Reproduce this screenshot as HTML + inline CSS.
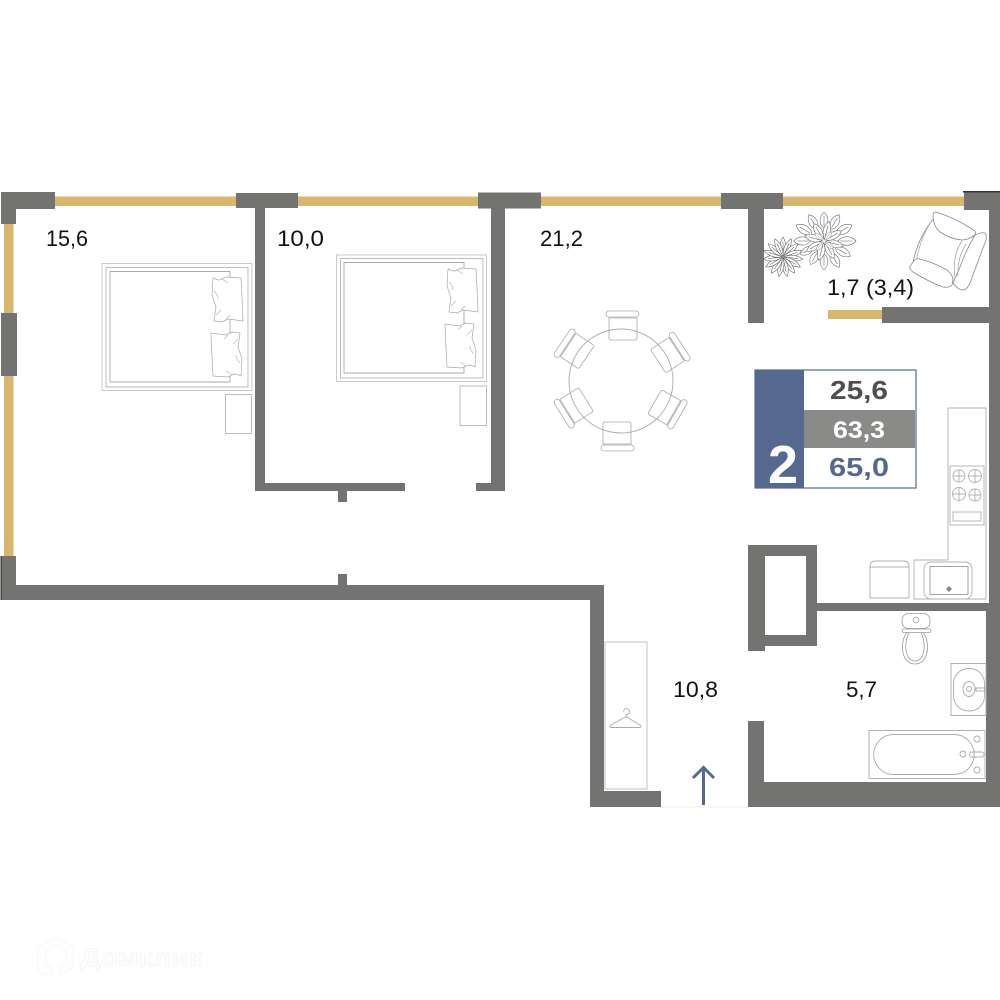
<!DOCTYPE html>
<html><head><meta charset="utf-8"><title>Floor plan</title>
<style>html,body{margin:0;padding:0;background:#fff}svg{display:block}</style></head>
<body>
<svg width="1000" height="1000" viewBox="0 0 1000 1000" xmlns="http://www.w3.org/2000/svg" font-family="'Liberation Sans',sans-serif">
<defs>
<path id="pet" d="M0 -1C-4 -7 -3.500 -14 0 -20C3.500 -14 4 -7 0 -1ZM0 -3V-15" fill="#fff" stroke="#666" stroke-width=".6"/>
<path id="pet2" d="M0 -14C-6 -19 -5.500 -27 0 -32C5.500 -27 6 -19 0 -14ZM0 -16V-28" fill="#fff" stroke="#666" stroke-width=".6"/>
<path id="pet3" d="M0 -2C-5 -8 -4.500 -15 0 -20C4.500 -15 5 -8 0 -2ZM0 -4V-16" fill="#fff" stroke="#666" stroke-width=".6"/>
<g id="chair" fill="none" stroke="#aaa" stroke-width=".8">
<rect x="606" y="311" width="33" height="6" rx="3"/>
<path d="M609 318H637V338Q637 340 635 340H611Q609 340 609 338Z"/>
</g>
<path id="pl" d="M1 1Q5 3 8 3L14 0L29 1L30 20L31 44L16 42L10 45L2 44L4 30L0 18Z" fill="#fff" stroke="#a8a8a8" stroke-width=".7"/>
<path id="pl2" d="M2 14Q6 18 6 22M4 38L9 33M10 2L16 6M14 42L18 38" fill="none" stroke="#b0b0b0" stroke-width=".6"/>
</defs>

<!-- windows -->
<g fill="#d9b66d">
<rect x="55" y="196.500" width="181" height="9.500"/>
<rect x="298" y="196.500" width="180" height="9.500"/>
<rect x="541" y="196.500" width="180" height="9.500"/>
<rect x="783" y="196.500" width="181" height="9.500"/>
<rect x="4" y="224" width="9.500" height="333"/>
<rect x="828" y="310" width="54" height="9"/>
</g>

<!-- walls -->
<g fill="#737372">
<path d="M1 192H55V209H16V224H1Z"/>
<rect x="1" y="313" width="16" height="63"/>
<rect x="236" y="193" width="62" height="15"/>
<path d="M255 208H265V483H405V491H347V502H338V491H255Z"/>
<rect x="478" y="192.500" width="63" height="16"/>
<path d="M491 208H505V491H476V483H491Z"/>
<rect x="721" y="193" width="62" height="16"/>
<rect x="748" y="209" width="16" height="114"/>
<path d="M964 192H1000V600H1000V807H748V721H764V782H986V611H817V646H765V651H748V545H817V603H989V323H882V307H989V210H964ZM765 556V635H806V556Z" fill-rule="evenodd"/>
<path d="M1 556H16V585H338V574H347V585H604V791H661V807H590V600H1Z"/>
</g>
<rect x="963" y="191" width="37" height="1.500" fill="#333"/>
<rect x="0.500" y="556" width="1.200" height="44" fill="#333"/>
<rect x="661" y="806.500" width="87" height="1" fill="#f2f2f2"/>

<!-- bed 1 -->
<g fill="none" stroke="#b5b5b5" stroke-width=".9">
<rect x="102" y="263.500" width="150" height="127" stroke="#c4c4c4"/>
<rect x="106" y="267.500" width="142" height="119.500"/>
<path d="M230 271.500H110V382H230Z" stroke="#aaa"/>
<rect x="225.500" y="394.500" width="26" height="39"/>
</g>
<use href="#pl" x="212" y="277"/><use href="#pl2" x="212" y="277"/>
<use href="#pl" transform="translate(242 377) rotate(180)"/><use href="#pl2" transform="translate(242 377) rotate(180)"/>

<!-- bed 2 -->
<g fill="none" stroke="#b5b5b5" stroke-width=".9">
<rect x="336.500" y="255" width="150" height="126.500" stroke="#c4c4c4"/>
<rect x="340.500" y="258.500" width="142.500" height="119.500"/>
<path d="M464 262.500H344V373H464Z" stroke="#aaa"/>
<rect x="460" y="386" width="26.500" height="39.500"/>
</g>
<use href="#pl" x="447" y="268"/><use href="#pl2" x="447" y="268"/>
<use href="#pl" transform="translate(476 368) rotate(180)"/><use href="#pl2" transform="translate(476 368) rotate(180)"/>

<!-- table and chairs -->
<g>
<use href="#chair"/>
<use href="#chair" transform="rotate(57 621 383)"/>
<use href="#chair" transform="rotate(120 621 380)"/>
<use href="#chair" transform="rotate(180 620 381)"/>
<use href="#chair" transform="rotate(238 621 380)"/>
<use href="#chair" transform="rotate(304 621 383)"/>
</g>
<circle cx="621" cy="381" r="52" fill="none" stroke="#aaa" stroke-width=".9"/>

<!-- plants -->
<g>
<use href="#pet2" transform="translate(824 241) rotate(0) scale(.9)"/>
<use href="#pet2" transform="translate(824 241) rotate(30) scale(.95)"/>
<use href="#pet2" transform="translate(824 241) rotate(60)"/>
<use href="#pet2" transform="translate(824 241) rotate(90)"/>
<use href="#pet2" transform="translate(824 241) rotate(120) scale(.95)"/>
<use href="#pet2" transform="translate(824 241) rotate(150) scale(.95)"/>
<use href="#pet2" transform="translate(824 241) rotate(180) scale(.9)"/>
<use href="#pet2" transform="translate(824 241) rotate(210) scale(.85)"/>
<use href="#pet2" transform="translate(824 241) rotate(240) scale(.85)"/>
<use href="#pet2" transform="translate(824 241) rotate(270) scale(.95)"/>
<use href="#pet2" transform="translate(824 241) rotate(300)"/>
<use href="#pet2" transform="translate(824 241) rotate(330) scale(.95)"/>
<use href="#pet3" transform="translate(824 241) rotate(15)"/>
<use href="#pet3" transform="translate(824 241) rotate(60)"/>
<use href="#pet3" transform="translate(824 241) rotate(105)"/>
<use href="#pet3" transform="translate(824 241) rotate(150)"/>
<use href="#pet3" transform="translate(824 241) rotate(195)"/>
<use href="#pet3" transform="translate(824 241) rotate(240)"/>
<use href="#pet3" transform="translate(824 241) rotate(285)"/>
<use href="#pet3" transform="translate(824 241) rotate(330)"/>
<use href="#pet3" transform="translate(824 241) rotate(40) scale(.6)"/>
<use href="#pet3" transform="translate(824 241) rotate(130) scale(.6)"/>
<use href="#pet3" transform="translate(824 241) rotate(220) scale(.6)"/>
<use href="#pet3" transform="translate(824 241) rotate(310) scale(.6)"/>
<use href="#pet" transform="translate(783 257) rotate(0)"/>
<use href="#pet" transform="translate(783 257) rotate(24)"/>
<use href="#pet" transform="translate(783 257) rotate(48)"/>
<use href="#pet" transform="translate(783 257) rotate(72)"/>
<use href="#pet" transform="translate(783 257) rotate(96)"/>
<use href="#pet" transform="translate(783 257) rotate(120)"/>
<use href="#pet" transform="translate(783 257) rotate(144)"/>
<use href="#pet" transform="translate(783 257) rotate(168)"/>
<use href="#pet" transform="translate(783 257) rotate(192)"/>
<use href="#pet" transform="translate(783 257) rotate(216)"/>
<use href="#pet" transform="translate(783 257) rotate(240)"/>
<use href="#pet" transform="translate(783 257) rotate(264)"/>
<use href="#pet" transform="translate(783 257) rotate(288)"/>
<use href="#pet" transform="translate(783 257) rotate(312)"/>
<use href="#pet" transform="translate(783 257) rotate(336)"/>
</g>

<!-- armchair -->
<g fill="#fff" stroke="#888" stroke-width=".8" stroke-linejoin="round">
<path d="M934 218C925 229 917 243 913 262" fill="none"/>
<path d="M931 222C924 232 919 246 917 258" fill="none" stroke="#aaa"/>
<path d="M975 235Q981 232 985 233Q987 235 986 240L970 283Q967 290 962 290Q957 289 953 283L960 267Q966 250 975 235Z"/>
<path d="M936 212Q955 218 972 229Q977 232 975 235Q968 240 962 240Q950 239 940 232Q933 226 933 215Q933 212 936 212Z"/>
<path d="M920 259Q935 263 947 270Q953 275 953 280L952 285Q949 288 943 287Q927 281 913 272Q909 269 910 266Q913 262 915 260Q917 258 920 259Z"/>
<path d="M962 241Q952 255 955 278M966 244Q957 258 958 276" fill="none" stroke="#aaa"/>
</g>

<!-- kitchen -->
<g fill="none" stroke="#b0b0b0" stroke-width=".9">
<path d="M948 560V408H986V599H914V560H948"/>
<rect x="950" y="466" width="34" height="59"/>
<circle cx="959" cy="476" r="6"/><path d="M953 476H965M959 470V482"/>
<circle cx="975" cy="476" r="6.500"/><path d="M968.500 476H981.500M975 469.500V482.500"/>
<circle cx="959" cy="494" r="6.500"/><path d="M952.500 494H965.500M959 487.500V500.500"/>
<circle cx="975" cy="495" r="6"/><path d="M969 495H981M975 489V501"/>
<rect x="953" y="512" width="28" height="9"/>
<rect x="924" y="562" width="48" height="37" rx="7"/>
<rect x="930" y="566.500" width="38" height="28" stroke="#999"/>
<path d="M870 567V598H909V567ZM870 567Q870 561 875 561H904Q909 561 909 567"/>
</g>
<path d="M949 586L952 589L949 592L946 589Z" fill="#888"/>

<!-- info box -->
<rect x="755" y="370" width="161" height="118" fill="#fff" stroke="#55698f" stroke-width="1.200"/>
<rect x="755" y="370" width="49" height="118" fill="#55698f"/>
<rect x="804" y="410" width="111" height="38" fill="#8a8a88"/>
<text x="768" y="483" font-size="54" font-weight="700" fill="#fff" textLength="30" lengthAdjust="spacingAndGlyphs">2</text>
<text x="830" y="399" font-size="26" font-weight="700" fill="#4f4f4f" textLength="58" lengthAdjust="spacingAndGlyphs">25,6</text>
<text x="833" y="438" font-size="24.500" font-weight="700" fill="#fff" textLength="52" lengthAdjust="spacingAndGlyphs">63,3</text>
<text x="829" y="476" font-size="26" font-weight="700" fill="#55698f" textLength="60" lengthAdjust="spacingAndGlyphs">65,0</text>

<!-- toilet -->
<g fill="none" stroke="#999" stroke-width=".8">
<rect x="902" y="613.500" width="28" height="15" rx="6.500"/>
<circle cx="916" cy="620" r="2.800"/>
<rect x="902" y="629" width="29" height="3.500" rx="1.700"/>
<path d="M907 632.500C900 640 900 664 915 664C930 664 930 640 923 632.500"/>
<path d="M909 633C904 641 904 661 915 661C926 661 926 641 921 633"/>
</g>
<!-- sink -->
<g fill="none" stroke="#aaa" stroke-width=".9">
<rect x="951" y="663.500" width="35" height="52"/>
<rect x="953.500" y="668.500" width="31" height="42.500" rx="15"/>
<ellipse cx="969" cy="689" rx="6" ry="7.500"/>
<circle cx="969" cy="689" r="2.500"/>
<rect x="976" y="688" width="10" height="3"/>
</g>
<!-- bath -->
<g fill="none" stroke="#aaa" stroke-width=".9">
<rect x="869" y="730.500" width="116" height="48"/>
<rect x="873.700" y="734.500" width="100.500" height="40" rx="20"/>
<circle cx="977" cy="739" r="3"/><circle cx="977" cy="770" r="3"/><circle cx="963" cy="754" r="3"/>
<rect x="969.500" y="752" width="14.500" height="5" rx="2.500"/>
</g>

<!-- wardrobe -->
<g fill="none" stroke="#bcbcbc" stroke-width=".9">
<rect x="605" y="642" width="42" height="147"/>
<path d="M623.500 711.500A3 3 0 1 1 626 714.500V716.500L640 725Q642 727 640 727.500H611.500Q608 727 611 725L626 716.500" stroke="#aaa"/>
</g>

<!-- arrow -->
<g fill="none" stroke="#55698f" stroke-width="3">
<path d="M703.500 805V768"/>
<path d="M693 778L703.500 767.500L714 778"/>
</g>

<!-- room labels -->
<g font-size="22" fill="#111">
<text x="46" y="246" textLength="42" lengthAdjust="spacingAndGlyphs">15,6</text>
<text x="277" y="246" textLength="47" lengthAdjust="spacingAndGlyphs">10,0</text>
<text x="540" y="246" textLength="43" lengthAdjust="spacingAndGlyphs">21,2</text>
<text x="827" y="295" textLength="87" lengthAdjust="spacingAndGlyphs">1,7 (3,4)</text>
<text x="673" y="697" textLength="45" lengthAdjust="spacingAndGlyphs">10,8</text>
<text x="846" y="697" textLength="31" lengthAdjust="spacingAndGlyphs">5,7</text>
</g>

<!-- watermark -->
<g fill="#fefefe" stroke="#f6f6f6" stroke-width="1">
<path d="M56 937L73 947V967L67 973H60V966L66 962V951L56 945L46 951V966H52V974H42L38 970V947Z"/>
<text x="80" y="966" font-size="25" font-weight="700" textLength="123" lengthAdjust="spacingAndGlyphs">Домклик</text>
</g>
</svg>
</body></html>
